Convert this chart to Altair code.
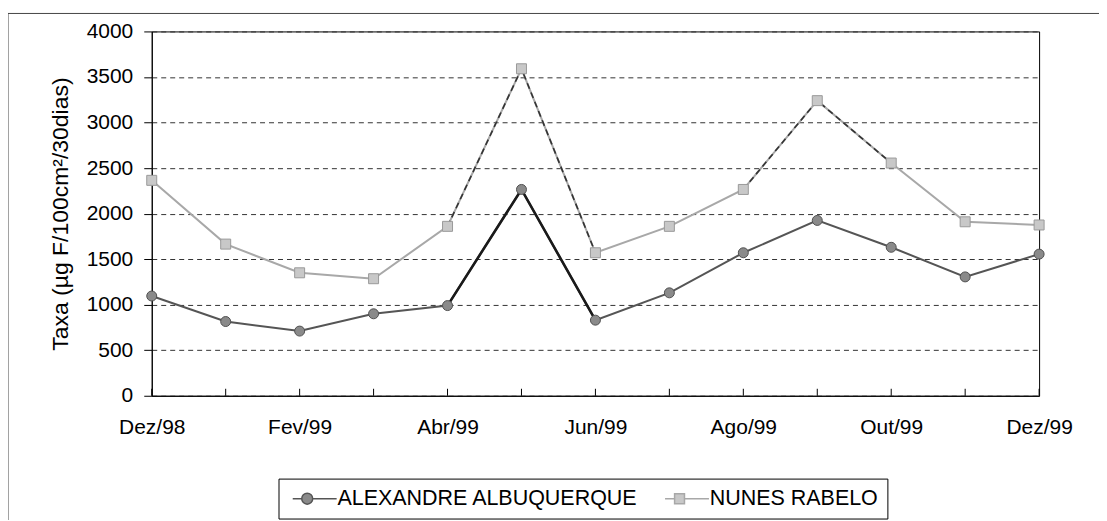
import altair as alt
import pandas as pd

months = ["Dez/98", "Jan/99", "Fev/99", "Mar/99", "Abr/99", "Mai/99", "Jun/99",
          "Jul/99", "Ago/99", "Set/99", "Out/99", "Nov/99", "Dez/99"]
shown_labels = ["Dez/98", "Fev/99", "Abr/99", "Jun/99", "Ago/99", "Out/99", "Dez/99"]
alexandre = [1095, 815, 710, 900, 990, 2265, 830, 1130, 1570, 1925, 1630, 1305, 1555]
nunes = [2365, 1665, 1350, 1285, 1860, 3590, 1570, 1860, 2265, 3240, 2555, 1910, 1875]
series_names = ["ALEXANDRE ALBUQUERQUE", "NUNES RABELO"]
y_ticks = [0, 500, 1000, 1500, 2000, 2500, 3000, 3500, 4000]
# stretches of the lines that print darker in the original
dark_segment_a = ["Abr/99", "Mai/99", "Jun/99"]
dark_segment_b = ["Ago/99", "Set/99", "Out/99"]

rows = []
for m, a, n in zip(months, alexandre, nunes):
    rows.append({"month": m, "series": series_names[0], "value": a})
    rows.append({"month": m, "series": series_names[1], "value": n})
df = pd.DataFrame(rows)

FONT = "Liberation Sans"
W, H = 889, 365

line_colors = ["#555555", "#a8a8a8"]
fill_colors = ["#8a8a8a", "#c8c8c8"]
stroke_colors = ["#505050", "#9a9a9a"]
IS_NUNES = "datum.series == 'NUNES RABELO'"


def in_list(lst):
    return "indexof([" + ",".join("'%s'" % s for s in lst) + "], datum.month) >= 0"


xscale = alt.Scale(type="point", padding=0)
label_expr = "indexof([" + ",".join("'%s'" % s for s in shown_labels) + "], datum.value) >= 0 ? datum.value : ''"

x_axis = alt.Axis(title=None, labelAngle=0, labelAlign="center", labelBaseline="top",
                  ticks=False, tickSize=0, labelPadding=21, labelExpr=label_expr,
                  domainColor="black", labelFontSize=21, labelColor="black", grid=False)
y_axis = alt.Axis(title="Taxa (µg F/100cm²/30dias)", values=y_ticks, format="d",
                  tickSize=8, tickColor="black", labelPadding=11,
                  labelFontSize=21, labelColor="black", domainColor="black",
                  grid=True, gridDash=[5, 4], gridColor="#333333",
                  titleFontSize=23, titleFontWeight="normal",
                  titleColor="black", titlePadding=14)


def xe():
    return alt.X("month:O", sort=months, scale=xscale, axis=x_axis)


def ye():
    return alt.Y("value:Q", scale=alt.Scale(domain=[0, 4000], nice=False), axis=y_axis)


# legend symbols: line stub with marker (custom SVG paths)
circ = "M-1,0H0.64M2.64,0H7.0M2.64,0A1,1 0 1,1 0.64,0A1,1 0 1,1 2.64,0Z"
sq = "M-1,0H0.74M2.54,0H7.0M0.74,-0.9H2.54V0.9H0.74Z"

legend = alt.Legend(
    title=None, orient="none", legendX=127, legendY=448, direction="horizontal",
    strokeColor="black", fillColor="white", padding=9, symbolSize=121,
    symbolStrokeWidth=1.5, symbolOpacity=1, labelOffset=28.5, columnPadding=21,
    labelFontSize=21.5, labelColor="black", labelFont=FONT, labelLimit=600,
)

frame = alt.Chart(pd.DataFrame({"a": [0]})).mark_rect(
    fillOpacity=0, stroke="#444444", strokeWidth=1
).encode(x=alt.value(-144), x2=alt.value(1200), y=alt.value(-18), y2=alt.value(900))

ticks = alt.Chart(pd.DataFrame({"month": months})).mark_rule(
    color="black", strokeWidth=1
).encode(x=xe(), y=alt.value(H), y2=alt.value(H - 7))

lines = alt.Chart(df).mark_line(strokeWidth=2).encode(
    x=xe(), y=ye(), detail="series:N",
    stroke=alt.condition(IS_NUNES, alt.value(line_colors[1]), alt.value(line_colors[0])),
)

dark_alex = alt.Chart(df).transform_filter(
    "datum.series == 'ALEXANDRE ALBUQUERQUE' && " + in_list(dark_segment_a)
).mark_line(strokeWidth=2.6, color="#1a1a1a").encode(x=xe(), y=ye())

dark_nunes = alt.Chart(df).transform_filter(
    IS_NUNES + " && (" + in_list(dark_segment_a) + " || " + in_list(dark_segment_b) + ")"
).transform_calculate(
    seg=in_list(dark_segment_a) + " ? 'a' : 'b'"
).mark_line(strokeWidth=1.6, color="#333333", strokeDash=[6, 4]).encode(
    x=xe(), y=ye(), detail="seg:N")

points = alt.Chart(df).mark_point(filled=True, size=100, strokeWidth=1, opacity=1).encode(
    x=xe(), y=ye(),
    shape=alt.condition(IS_NUNES, alt.value("square"), alt.value("circle")),
    fill=alt.condition(IS_NUNES, alt.value(fill_colors[1]), alt.value(fill_colors[0])),
    stroke=alt.condition(IS_NUNES, alt.value(stroke_colors[1]), alt.value(stroke_colors[0])),
)

legend_src = alt.Chart(df).mark_point(filled=True, size=121, strokeWidth=1.5, opacity=0).encode(
    x=xe(), y=ye(),
    shape=alt.Shape("series:N", scale=alt.Scale(domain=series_names, range=[circ, sq]), legend=legend),
    fill=alt.Fill("series:N", scale=alt.Scale(domain=series_names, range=fill_colors), legend=legend),
    stroke=alt.Stroke("series:N", scale=alt.Scale(domain=series_names, range=line_colors), legend=legend),
)

chart = alt.layer(frame, ticks, lines, dark_alex, dark_nunes, points, legend_src).properties(
    width=W, height=H,
    autosize=alt.AutoSizeParams(type="none"),
    padding={"left": 144, "top": 23, "right": 60, "bottom": 124},
    background="white",
).configure_view(stroke="black", strokeWidth=1).configure_axis(
    labelFont=FONT, titleFont=FONT
).configure_legend(labelFont=FONT)

chart.save("out.html", embed_options={"renderer": "svg", "actions": False})
